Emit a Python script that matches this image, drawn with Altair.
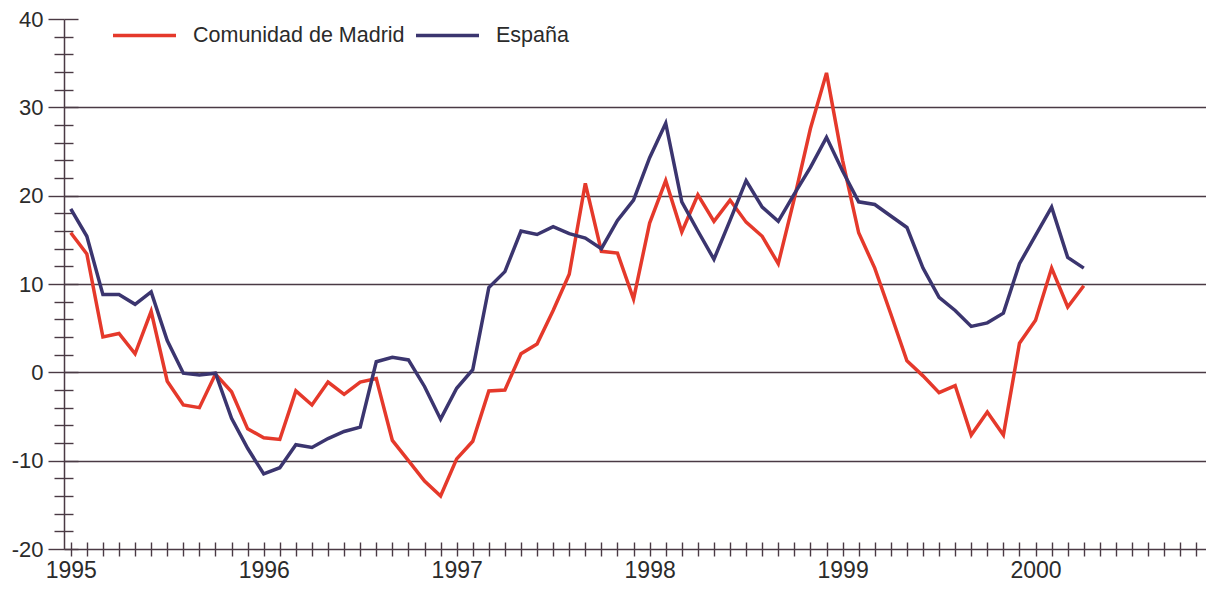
import altair as alt
import pandas as pd

# ---- data (monthly, Jan 1995 .. Apr 2000) ----
meses = [f"{1995 + k // 12}-{k % 12 + 1:02d}" for k in range(64)]

madrid = [15.8, 13.4, 4.0, 4.4, 2.1, 6.9, -1.0, -3.7, -4.0, -0.2, -2.2, -6.4,
          -7.4, -7.6, -2.1, -3.7, -1.1, -2.5, -1.1, -0.7, -7.7, -10.0, -12.3, -14.0,
          -9.8, -7.8, -2.1, -2.0, 2.1, 3.2, 7.0, 11.1, 21.4, 13.7, 13.5, 8.3,
          16.9, 21.7, 15.9, 20.1, 17.1, 19.5, 17.0, 15.4, 12.3, 19.7, 27.6, 33.9,
          24.0, 15.8, 11.8, 6.6, 1.3, -0.4, -2.3, -1.5, -7.1, -4.5, -7.1, 3.3,
          5.9, 11.8, 7.4, 9.8]

espana = [18.5, 15.4, 8.8, 8.8, 7.7, 9.1, 3.6, -0.1, -0.3, -0.1, -5.2, -8.6,
          -11.5, -10.8, -8.2, -8.5, -7.5, -6.7, -6.2, 1.2, 1.7, 1.4, -1.6, -5.3,
          -1.8, 0.3, 9.6, 11.4, 16.0, 15.6, 16.5, 15.7, 15.2, 14.0, 17.2, 19.5,
          24.3, 28.2, 19.3, 16.0, 12.8, 17.2, 21.7, 18.7, 17.1, 20.2, 23.2, 26.6,
          22.8, 19.3, 19.0, 17.7, 16.4, 11.8, 8.5, 7.0, 5.2, 5.6, 6.7, 12.3,
          15.5, 18.7, 13.0, 11.8]

series = ["Comunidad de Madrid", "España"]
colores = ["#e5392b", "#3b356f"]

x_ticks = list(range(0, 71))
y_major = [-20, -10, 0, 10, 20, 30, 40]
y_minor = [v for v in range(-18, 40, 2) if v % 10 != 0]
y_grid = [-10, 0, 10, 20, 30]

rows = []
for k, m in enumerate(meses):
    rows.append({"t": k, "mes": m, "serie": series[0], "valor": madrid[k]})
for k, m in enumerate(meses):
    rows.append({"t": k, "mes": m, "serie": series[1], "valor": espana[k]})
df = pd.DataFrame(rows)

AX = "#4a3a44"
FONT = "Liberation Sans"
xs = alt.Scale(domain=[-0.42, 70.6], nice=False, zero=False)
ys = alt.Scale(domain=[-20, 40], nice=False, zero=False)

base = alt.Chart(df)

# gridlines
grid_layer = base.mark_point(opacity=0).encode(
    y=alt.Y("valor:Q", scale=ys, axis=alt.Axis(
        orient="left", values=y_grid, grid=True, gridColor=AX, gridWidth=1.4,
        ticks=False, labels=False, domain=False, title=None)),
)

# minor ticks left of y axis + upward halves of x ticks
minor_left = base.mark_point(opacity=0).encode(
    x=alt.X("t:Q", scale=xs, axis=alt.Axis(
        orient="bottom", offset=-7, values=x_ticks, tickSize=7, tickColor=AX,
        tickWidth=1.4, labels=False, domain=False, grid=False, title=None)),
    y=alt.Y("valor:Q", scale=ys, axis=alt.Axis(
        orient="left", values=y_minor, tickSize=10, tickColor=AX, tickWidth=1.4,
        labels=False, domain=False, grid=False, title=None)),
)

# major ticks right of y axis
major_right = base.mark_point(opacity=0).encode(
    y=alt.Y("valor:Q", scale=ys, axis=alt.Axis(
        orient="left", offset=-14, values=y_major, tickSize=14, tickColor=AX,
        tickWidth=1.4, labels=False, domain=False, grid=False, title=None)),
)

# minor ticks right of y axis
minor_right = base.mark_point(opacity=0).encode(
    y=alt.Y("valor:Q", scale=ys, axis=alt.Axis(
        orient="left", offset=-9, values=y_minor, tickSize=9, tickColor=AX,
        tickWidth=1.4, labels=False, domain=False, grid=False, title=None)),
)

year_expr = "datum.value % 12 === 0 ? '' + (1995 + datum.value / 12) : ''"

lines = base.mark_line(strokeWidth=3.5).encode(
    x=alt.X("t:Q", scale=xs, axis=alt.Axis(
        orient="bottom", values=x_ticks, tickSize=7, tickColor=AX, tickWidth=1.4,
        domainColor=AX, domainWidth=1.5, grid=False, title=None,
        labelExpr=year_expr, labelFontSize=23, labelFont=FONT, labelColor="#2b2b2b",
        labelBaseline="alphabetic", labelPadding=21, labelFlush=False,
        labelOverlap=False, labelAlign="center")),
    y=alt.Y("valor:Q", scale=ys, axis=alt.Axis(
        orient="left", values=y_major, tickSize=16, tickColor=AX, tickWidth=1.4,
        domainColor=AX, domainWidth=1.5, grid=False, title=None,
        labelExpr="'' + datum.value",
        labelFontSize=22, labelFont=FONT, labelColor="#2b2b2b", labelPadding=5,
        labelOverlap=False, labelFlush=False)),
    color=alt.Color("serie:N", scale=alt.Scale(domain=series, range=colores),
                    legend=alt.Legend(
                        orient="none", legendX=47, legendY=-17,
                        direction="horizontal", title=None,
                        symbolType="stroke", symbolSize=3969,
                        symbolStrokeWidth=3.5, labelFontSize=21.5,
                        labelFont=FONT, labelColor="#2b2b2b", labelLimit=400,
                        labelOffset=15, columnPadding=4, padding=0)),
    order=alt.Order("t:Q"),
)

chart = alt.layer(grid_layer, minor_left, major_right, minor_right, lines).resolve_axis(
    x="independent", y="independent"
).resolve_scale(x="shared", y="shared").properties(
    width=1142, height=530,
    padding={"left": 56, "top": 11, "right": 0, "bottom": 34},
    autosize=alt.AutoSizeParams(type="none"),
    background="white",
).configure_view(stroke=None)

chart.save("out.html", embed_options={"renderer": "svg", "actions": False})
